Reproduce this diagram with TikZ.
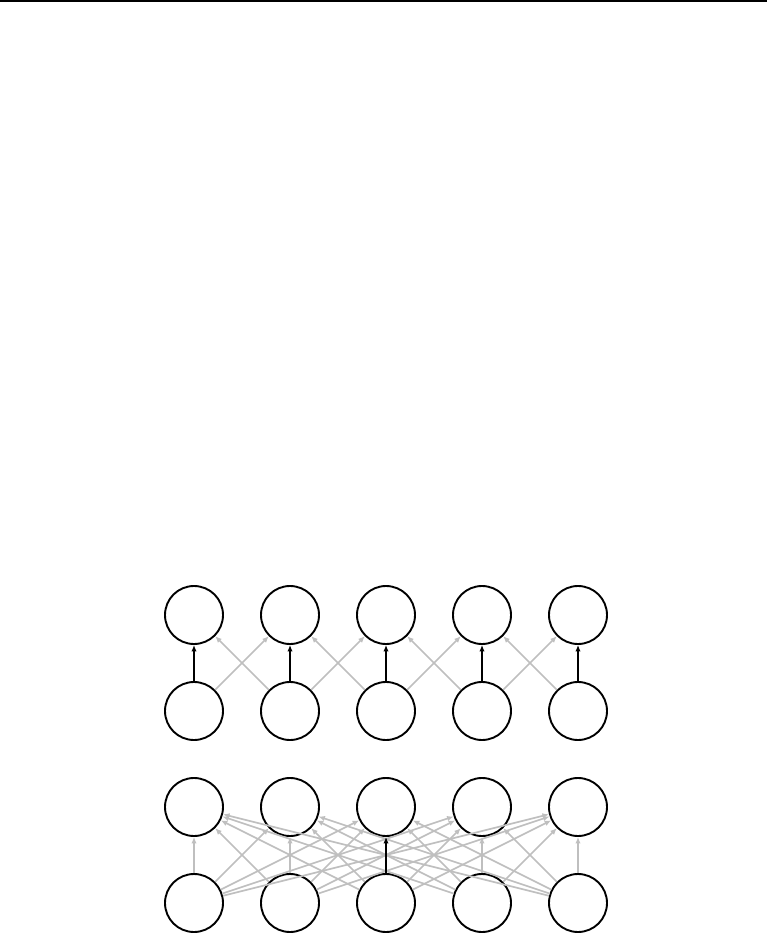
\documentclass[tikz,border=0pt]{standalone}
\usetikzlibrary{arrows.meta}
\begin{document}
\begin{tikzpicture}[x=1pt,y=-1pt,
  unit/.style={circle,draw=black,line width=1.9pt,minimum size=58pt,inner sep=0pt},
  strong/.style={draw=black,line width=1.9pt,-{Latex[length=6.5pt,width=5.5pt]}},
  weak/.style={draw=black!25,line width=1.7pt,-{Latex[length=6.5pt,width=5.5pt]}}]
\useasboundingbox (0,0) rectangle (769,938);
\draw[line width=1.6pt] (0,0.8) -- (767,0.8);
\foreach \i/\x in {1/194,2/290,3/386,4/482,5/578}{
  \node[unit] (a\i) at (\x,615) {};
  \node[unit] (b\i) at (\x,711) {};
  \node[unit] (c\i) at (\x,807) {};
  \node[unit] (d\i) at (\x,903) {};
}
% top group: local connections
\foreach \i/\j in {1/2,2/1,2/3,3/2,3/4,4/3,4/5,5/4}{
  \draw[weak] (b\i) -- (a\j);
}
\foreach \i in {1,...,5}{
  \draw[strong] (b\i) -- (a\i);
}
% bottom group: full connections
\foreach \i in {1,...,5}{
  \foreach \j in {1,...,5}{
    \ifnum\i=3 \ifnum\j=3 \else \draw[weak] (d\i) -- (c\j); \fi
    \else \draw[weak] (d\i) -- (c\j); \fi
  }
}
\draw[strong] (d3) -- (c3);
\end{tikzpicture}
\end{document}
